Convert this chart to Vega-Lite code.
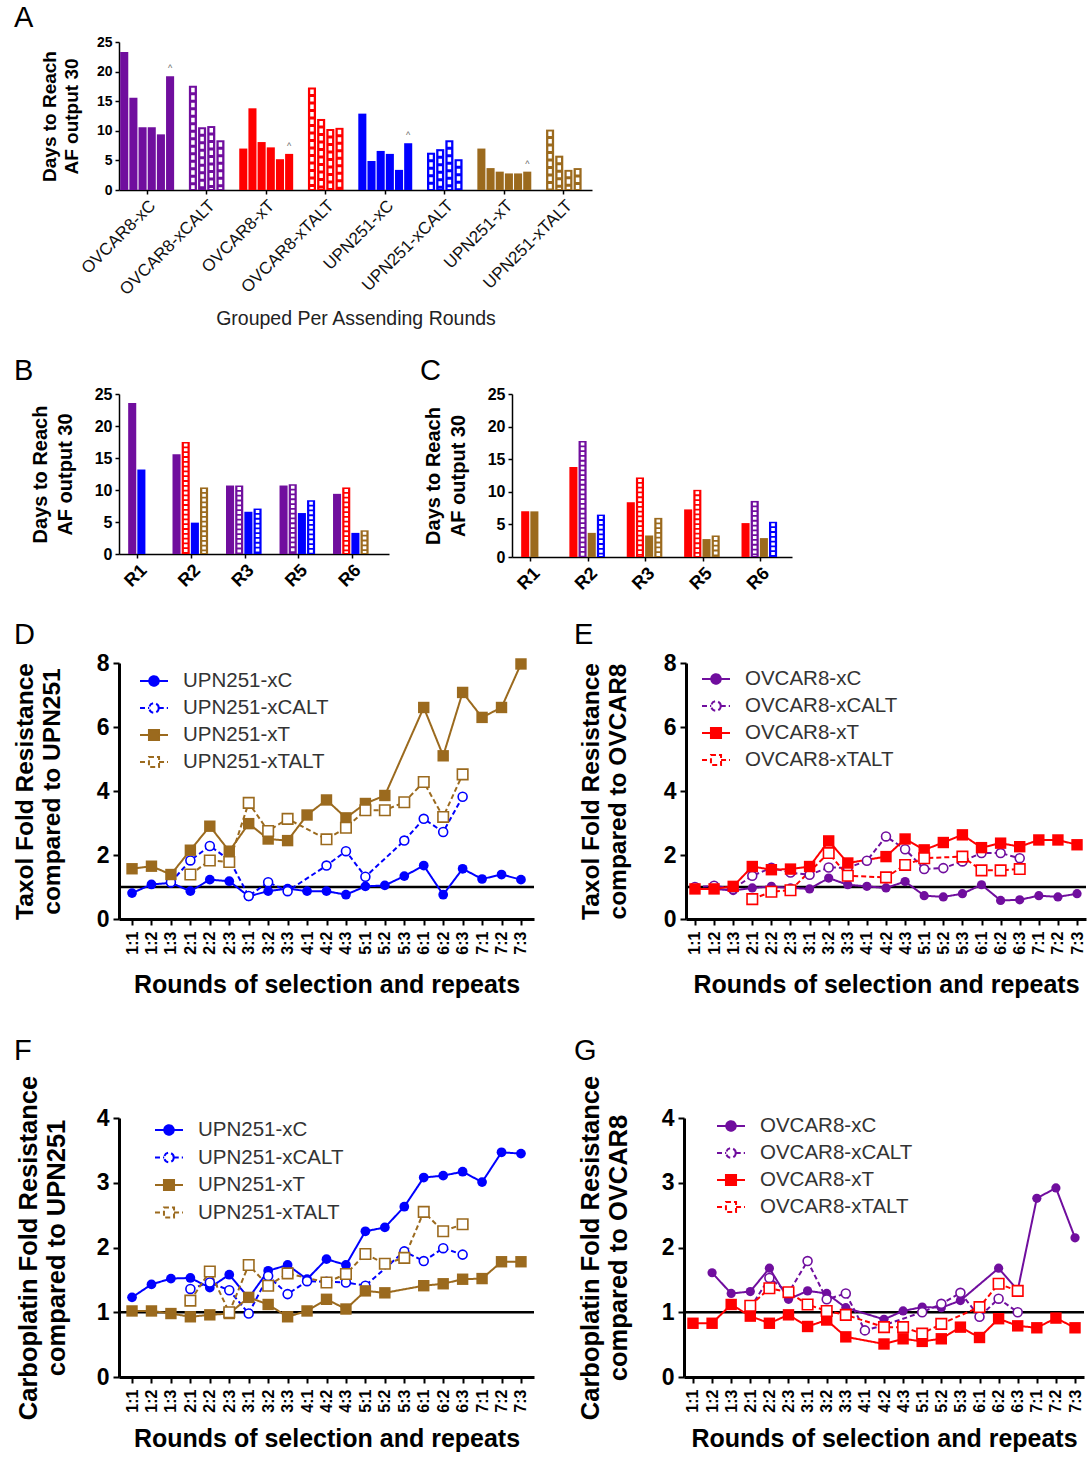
{
"$schema":"https://vega.github.io/schema/vega-lite/v6.json",
"padding":{"left":12,"top":4,"right":0,"bottom":0},
"config":{"font":"Liberation Sans","view":{"stroke":null},"axis":{"grid":false,"domainColor":"black","tickColor":"black","labelColor":"black","titleColor":"black","labelFont":"Liberation Sans","titleFont":"Liberation Sans"},"title":{"font":"Liberation Sans","fontWeight":"normal","color":"black","fontSize":29,"anchor":"start","frame":"group"},"legend":{"labelFont":"Liberation Sans"}},
"resolve":{"scale":{"color":"independent","stroke":"independent","strokeDash":"independent","x":"independent","y":"independent"}},
"datasets":{
"A":[
{"g":"OVCAR8-xC","k":1,"v":23.3},{"g":"OVCAR8-xC","k":2,"v":15.6},{"g":"OVCAR8-xC","k":3,"v":10.6},{"g":"OVCAR8-xC","k":4,"v":10.6},{"g":"OVCAR8-xC","k":5,"v":9.4},{"g":"OVCAR8-xC","k":6,"v":19.2,"n":"^"},
{"g":"OVCAR8-xCALT","k":2,"v":17.6},{"g":"OVCAR8-xCALT","k":3,"v":10.6},{"g":"OVCAR8-xCALT","k":4,"v":10.8},{"g":"OVCAR8-xCALT","k":5,"v":8.4},
{"g":"OVCAR8-xT","k":1,"v":7.0},{"g":"OVCAR8-xT","k":2,"v":13.8},{"g":"OVCAR8-xT","k":3,"v":8.1},{"g":"OVCAR8-xT","k":4,"v":7.2},{"g":"OVCAR8-xT","k":5,"v":5.2},{"g":"OVCAR8-xT","k":6,"v":6.1,"n":"^"},
{"g":"OVCAR8-xTALT","k":2,"v":17.3},{"g":"OVCAR8-xTALT","k":3,"v":12.0},{"g":"OVCAR8-xTALT","k":4,"v":10.3},{"g":"OVCAR8-xTALT","k":5,"v":10.5},
{"g":"UPN251-xC","k":1,"v":12.9},{"g":"UPN251-xC","k":2,"v":4.9},{"g":"UPN251-xC","k":3,"v":6.6},{"g":"UPN251-xC","k":4,"v":6.1},{"g":"UPN251-xC","k":5,"v":3.4},{"g":"UPN251-xC","k":6,"v":7.9,"n":"^"},
{"g":"UPN251-xCALT","k":2,"v":6.3},{"g":"UPN251-xCALT","k":3,"v":6.9},{"g":"UPN251-xCALT","k":4,"v":8.4},{"g":"UPN251-xCALT","k":5,"v":5.2},
{"g":"UPN251-xT","k":1,"v":7.0},{"g":"UPN251-xT","k":2,"v":3.7},{"g":"UPN251-xT","k":3,"v":3.1},{"g":"UPN251-xT","k":4,"v":2.8},{"g":"UPN251-xT","k":5,"v":2.8},{"g":"UPN251-xT","k":6,"v":3.1,"n":"^"},
{"g":"UPN251-xTALT","k":2,"v":10.2},{"g":"UPN251-xTALT","k":3,"v":5.8},{"g":"UPN251-xTALT","k":4,"v":3.4},{"g":"UPN251-xTALT","k":5,"v":3.7}
],
"B":[
{"r":"R1","k":2,"s":"OVCAR8-xC","v":23.6},{"r":"R1","k":3,"s":"UPN251-xC","v":13.2},
{"r":"R2","k":1,"s":"OVCAR8-xC","v":15.6},{"r":"R2","k":2,"s":"OVCAR8-xTALT","v":17.5},{"r":"R2","k":3,"s":"UPN251-xC","v":4.9},{"r":"R2","k":4,"s":"UPN251-xTALT","v":10.4},
{"r":"R3","k":1,"s":"OVCAR8-xC","v":10.7},{"r":"R3","k":2,"s":"OVCAR8-xCALT","v":10.7},{"r":"R3","k":3,"s":"UPN251-xC","v":6.6},{"r":"R3","k":4,"s":"UPN251-xCALT","v":7.1},
{"r":"R5","k":1,"s":"OVCAR8-xC","v":10.7},{"r":"R5","k":2,"s":"OVCAR8-xCALT","v":10.9},{"r":"R5","k":3,"s":"UPN251-xC","v":6.4},{"r":"R5","k":4,"s":"UPN251-xCALT","v":8.4},
{"r":"R6","k":1,"s":"OVCAR8-xC","v":9.4},{"r":"R6","k":2,"s":"OVCAR8-xTALT","v":10.4},{"r":"R6","k":3,"s":"UPN251-xC","v":3.3},{"r":"R6","k":4,"s":"UPN251-xTALT","v":3.7}
],
"C":[
{"r":"R1","k":2,"s":"OVCAR8-xT","v":7.0},{"r":"R1","k":3,"s":"UPN251-xT","v":7.0},
{"r":"R2","k":1,"s":"OVCAR8-xT","v":13.8},{"r":"R2","k":2,"s":"OVCAR8-xCALT","v":17.8},{"r":"R2","k":3,"s":"UPN251-xT","v":3.7},{"r":"R2","k":4,"s":"UPN251-xCALT","v":6.5},
{"r":"R3","k":1,"s":"OVCAR8-xT","v":8.4},{"r":"R3","k":2,"s":"OVCAR8-xTALT","v":12.2},{"r":"R3","k":3,"s":"UPN251-xT","v":3.3},{"r":"R3","k":4,"s":"UPN251-xTALT","v":6.0},
{"r":"R5","k":1,"s":"OVCAR8-xT","v":7.3},{"r":"R5","k":2,"s":"OVCAR8-xTALT","v":10.3},{"r":"R5","k":3,"s":"UPN251-xT","v":2.75},{"r":"R5","k":4,"s":"UPN251-xTALT","v":3.3},
{"r":"R6","k":1,"s":"OVCAR8-xT","v":5.2},{"r":"R6","k":2,"s":"OVCAR8-xCALT","v":8.6},{"r":"R6","k":3,"s":"UPN251-xT","v":2.9},{"r":"R6","k":4,"s":"UPN251-xCALT","v":5.4}
],
"D":[
{"s":"UPN251-xC","x":"1:1","v":0.81},{"s":"UPN251-xC","x":"1:2","v":1.08},{"s":"UPN251-xC","x":"1:3","v":1.13},{"s":"UPN251-xC","x":"2:1","v":0.87},{"s":"UPN251-xC","x":"2:2","v":1.23},{"s":"UPN251-xC","x":"2:3","v":1.18},{"s":"UPN251-xC","x":"3:1","v":0.71},{"s":"UPN251-xC","x":"3:2","v":0.87},{"s":"UPN251-xC","x":"3:3","v":0.95},{"s":"UPN251-xC","x":"4:1","v":0.87},{"s":"UPN251-xC","x":"4:2","v":0.87},{"s":"UPN251-xC","x":"4:3","v":0.76},{"s":"UPN251-xC","x":"5:1","v":1.02},{"s":"UPN251-xC","x":"5:2","v":1.05},{"s":"UPN251-xC","x":"5:3","v":1.34},{"s":"UPN251-xC","x":"6:1","v":1.67},{"s":"UPN251-xC","x":"6:2","v":0.76},{"s":"UPN251-xC","x":"6:3","v":1.57},{"s":"UPN251-xC","x":"7:1","v":1.25},{"s":"UPN251-xC","x":"7:2","v":1.39},{"s":"UPN251-xC","x":"7:3","v":1.23},
{"s":"UPN251-xCALT","x":"1:3","v":1.15},{"s":"UPN251-xCALT","x":"2:1","v":1.83},{"s":"UPN251-xCALT","x":"2:2","v":2.28},{"s":"UPN251-xCALT","x":"2:3","v":1.85},{"s":"UPN251-xCALT","x":"3:1","v":0.72},{"s":"UPN251-xCALT","x":"3:2","v":1.15},{"s":"UPN251-xCALT","x":"3:3","v":0.87},{"s":"UPN251-xCALT","x":"4:2","v":1.67},{"s":"UPN251-xCALT","x":"4:3","v":2.12},{"s":"UPN251-xCALT","x":"5:1","v":1.32},{"s":"UPN251-xCALT","x":"5:3","v":2.45},{"s":"UPN251-xCALT","x":"6:1","v":3.13},{"s":"UPN251-xCALT","x":"6:2","v":2.72},{"s":"UPN251-xCALT","x":"6:3","v":3.82},
{"s":"UPN251-xT","x":"1:1","v":1.57},{"s":"UPN251-xT","x":"1:2","v":1.65},{"s":"UPN251-xT","x":"1:3","v":1.39},{"s":"UPN251-xT","x":"2:1","v":2.15},{"s":"UPN251-xT","x":"2:2","v":2.9},{"s":"UPN251-xT","x":"2:3","v":2.12},{"s":"UPN251-xT","x":"3:1","v":2.98},{"s":"UPN251-xT","x":"3:2","v":2.5},{"s":"UPN251-xT","x":"3:3","v":2.45},{"s":"UPN251-xT","x":"4:1","v":3.25},{"s":"UPN251-xT","x":"4:2","v":3.72},{"s":"UPN251-xT","x":"4:3","v":3.16},{"s":"UPN251-xT","x":"5:1","v":3.61},{"s":"UPN251-xT","x":"5:2","v":3.86},{"s":"UPN251-xT","x":"6:1","v":6.61},{"s":"UPN251-xT","x":"6:2","v":5.1},{"s":"UPN251-xT","x":"6:3","v":7.08},{"s":"UPN251-xT","x":"7:1","v":6.3},{"s":"UPN251-xT","x":"7:2","v":6.61},{"s":"UPN251-xT","x":"7:3","v":7.97},
{"s":"UPN251-xTALT","x":"2:1","v":1.39},{"s":"UPN251-xTALT","x":"2:2","v":1.83},{"s":"UPN251-xTALT","x":"2:3","v":1.78},{"s":"UPN251-xTALT","x":"3:1","v":3.63},{"s":"UPN251-xTALT","x":"3:2","v":2.75},{"s":"UPN251-xTALT","x":"3:3","v":3.13},{"s":"UPN251-xTALT","x":"4:2","v":2.49},{"s":"UPN251-xTALT","x":"4:3","v":2.85},{"s":"UPN251-xTALT","x":"5:1","v":3.4},{"s":"UPN251-xTALT","x":"5:2","v":3.4},{"s":"UPN251-xTALT","x":"5:3","v":3.65},{"s":"UPN251-xTALT","x":"6:1","v":4.28},{"s":"UPN251-xTALT","x":"6:2","v":3.19},{"s":"UPN251-xTALT","x":"6:3","v":4.52}
],
"E":[
{"s":"OVCAR8-xC","x":"1:1","v":0.94},{"s":"OVCAR8-xC","x":"1:2","v":0.94},{"s":"OVCAR8-xC","x":"1:3","v":0.89},{"s":"OVCAR8-xC","x":"2:1","v":0.97},{"s":"OVCAR8-xC","x":"2:2","v":1.02},{"s":"OVCAR8-xC","x":"2:3","v":0.97},{"s":"OVCAR8-xC","x":"3:1","v":0.94},{"s":"OVCAR8-xC","x":"3:2","v":1.28},{"s":"OVCAR8-xC","x":"3:3","v":1.07},{"s":"OVCAR8-xC","x":"4:1","v":1.02},{"s":"OVCAR8-xC","x":"4:2","v":0.97},{"s":"OVCAR8-xC","x":"4:3","v":1.17},{"s":"OVCAR8-xC","x":"5:1","v":0.73},{"s":"OVCAR8-xC","x":"5:2","v":0.69},{"s":"OVCAR8-xC","x":"5:3","v":0.79},{"s":"OVCAR8-xC","x":"6:1","v":1.07},{"s":"OVCAR8-xC","x":"6:2","v":0.58},{"s":"OVCAR8-xC","x":"6:3","v":0.6},{"s":"OVCAR8-xC","x":"7:1","v":0.73},{"s":"OVCAR8-xC","x":"7:2","v":0.69},{"s":"OVCAR8-xC","x":"7:3","v":0.79},
{"s":"OVCAR8-xCALT","x":"1:1","v":1.0},{"s":"OVCAR8-xCALT","x":"1:2","v":1.04},{"s":"OVCAR8-xCALT","x":"1:3","v":0.94},{"s":"OVCAR8-xCALT","x":"2:1","v":1.35},{"s":"OVCAR8-xCALT","x":"2:2","v":1.6},{"s":"OVCAR8-xCALT","x":"2:3","v":1.45},{"s":"OVCAR8-xCALT","x":"3:1","v":1.38},{"s":"OVCAR8-xCALT","x":"3:2","v":1.61},{"s":"OVCAR8-xCALT","x":"3:3","v":1.6},{"s":"OVCAR8-xCALT","x":"4:1","v":1.82},{"s":"OVCAR8-xCALT","x":"4:2","v":2.58},{"s":"OVCAR8-xCALT","x":"4:3","v":2.18},{"s":"OVCAR8-xCALT","x":"5:1","v":1.56},{"s":"OVCAR8-xCALT","x":"5:2","v":1.59},{"s":"OVCAR8-xCALT","x":"5:3","v":1.8},{"s":"OVCAR8-xCALT","x":"6:1","v":2.06},{"s":"OVCAR8-xCALT","x":"6:2","v":2.06},{"s":"OVCAR8-xCALT","x":"6:3","v":1.9},
{"s":"OVCAR8-xT","x":"1:1","v":0.94},{"s":"OVCAR8-xT","x":"1:2","v":0.94},{"s":"OVCAR8-xT","x":"1:3","v":1.02},{"s":"OVCAR8-xT","x":"2:1","v":1.64},{"s":"OVCAR8-xT","x":"2:2","v":1.54},{"s":"OVCAR8-xT","x":"2:3","v":1.56},{"s":"OVCAR8-xT","x":"3:1","v":1.64},{"s":"OVCAR8-xT","x":"3:2","v":2.44},{"s":"OVCAR8-xT","x":"3:3","v":1.75},{"s":"OVCAR8-xT","x":"4:2","v":1.95},{"s":"OVCAR8-xT","x":"4:3","v":2.5},{"s":"OVCAR8-xT","x":"5:1","v":2.16},{"s":"OVCAR8-xT","x":"5:2","v":2.39},{"s":"OVCAR8-xT","x":"5:3","v":2.63},{"s":"OVCAR8-xT","x":"6:1","v":2.23},{"s":"OVCAR8-xT","x":"6:2","v":2.37},{"s":"OVCAR8-xT","x":"6:3","v":2.26},{"s":"OVCAR8-xT","x":"7:1","v":2.47},{"s":"OVCAR8-xT","x":"7:2","v":2.47},{"s":"OVCAR8-xT","x":"7:3","v":2.32},
{"s":"OVCAR8-xTALT","x":"2:1","v":0.62},{"s":"OVCAR8-xTALT","x":"2:2","v":0.85},{"s":"OVCAR8-xTALT","x":"2:3","v":0.9},{"s":"OVCAR8-xTALT","x":"3:2","v":2.06},{"s":"OVCAR8-xTALT","x":"3:3","v":1.35},{"s":"OVCAR8-xTALT","x":"4:2","v":1.3},{"s":"OVCAR8-xTALT","x":"4:3","v":1.69},{"s":"OVCAR8-xTALT","x":"5:1","v":1.9},{"s":"OVCAR8-xTALT","x":"5:3","v":1.95},{"s":"OVCAR8-xTALT","x":"6:1","v":1.52},{"s":"OVCAR8-xTALT","x":"6:2","v":1.52},{"s":"OVCAR8-xTALT","x":"6:3","v":1.56}
],
"F":[
{"s":"UPN251-xC","x":"1:1","v":1.23},{"s":"UPN251-xC","x":"1:2","v":1.43},{"s":"UPN251-xC","x":"1:3","v":1.52},{"s":"UPN251-xC","x":"2:1","v":1.53},{"s":"UPN251-xC","x":"2:2","v":1.38},{"s":"UPN251-xC","x":"2:3","v":1.58},{"s":"UPN251-xC","x":"3:1","v":1.22},{"s":"UPN251-xC","x":"3:2","v":1.64},{"s":"UPN251-xC","x":"3:3","v":1.73},{"s":"UPN251-xC","x":"4:1","v":1.51},{"s":"UPN251-xC","x":"4:2","v":1.82},{"s":"UPN251-xC","x":"4:3","v":1.73},{"s":"UPN251-xC","x":"5:1","v":2.25},{"s":"UPN251-xC","x":"5:2","v":2.31},{"s":"UPN251-xC","x":"5:3","v":2.63},{"s":"UPN251-xC","x":"6:1","v":3.08},{"s":"UPN251-xC","x":"6:2","v":3.11},{"s":"UPN251-xC","x":"6:3","v":3.17},{"s":"UPN251-xC","x":"7:1","v":3.01},{"s":"UPN251-xC","x":"7:2","v":3.47},{"s":"UPN251-xC","x":"7:3","v":3.45},
{"s":"UPN251-xCALT","x":"2:1","v":1.36},{"s":"UPN251-xCALT","x":"2:2","v":1.46},{"s":"UPN251-xCALT","x":"2:3","v":1.34},{"s":"UPN251-xCALT","x":"3:1","v":0.98},{"s":"UPN251-xCALT","x":"3:2","v":1.56},{"s":"UPN251-xCALT","x":"3:3","v":1.28},{"s":"UPN251-xCALT","x":"4:1","v":1.48},{"s":"UPN251-xCALT","x":"4:2","v":1.47},{"s":"UPN251-xCALT","x":"4:3","v":1.46},{"s":"UPN251-xCALT","x":"5:1","v":1.41},{"s":"UPN251-xCALT","x":"5:3","v":1.94},{"s":"UPN251-xCALT","x":"6:1","v":1.79},{"s":"UPN251-xCALT","x":"6:2","v":1.99},{"s":"UPN251-xCALT","x":"6:3","v":1.89},
{"s":"UPN251-xT","x":"1:1","v":1.02},{"s":"UPN251-xT","x":"1:2","v":1.02},{"s":"UPN251-xT","x":"1:3","v":0.98},{"s":"UPN251-xT","x":"2:1","v":0.93},{"s":"UPN251-xT","x":"2:2","v":0.96},{"s":"UPN251-xT","x":"2:3","v":0.98},{"s":"UPN251-xT","x":"3:1","v":1.23},{"s":"UPN251-xT","x":"3:2","v":1.12},{"s":"UPN251-xT","x":"3:3","v":0.93},{"s":"UPN251-xT","x":"4:1","v":1.02},{"s":"UPN251-xT","x":"4:2","v":1.2},{"s":"UPN251-xT","x":"4:3","v":1.05},{"s":"UPN251-xT","x":"5:1","v":1.33},{"s":"UPN251-xT","x":"5:2","v":1.3},{"s":"UPN251-xT","x":"6:1","v":1.41},{"s":"UPN251-xT","x":"6:2","v":1.44},{"s":"UPN251-xT","x":"6:3","v":1.51},{"s":"UPN251-xT","x":"7:1","v":1.52},{"s":"UPN251-xT","x":"7:2","v":1.78},{"s":"UPN251-xT","x":"7:3","v":1.78},
{"s":"UPN251-xTALT","x":"2:1","v":1.18},{"s":"UPN251-xTALT","x":"2:2","v":1.63},{"s":"UPN251-xTALT","x":"2:3","v":1.0},{"s":"UPN251-xTALT","x":"3:1","v":1.73},{"s":"UPN251-xTALT","x":"3:2","v":1.41},{"s":"UPN251-xTALT","x":"3:3","v":1.6},{"s":"UPN251-xTALT","x":"4:2","v":1.46},{"s":"UPN251-xTALT","x":"4:3","v":1.59},{"s":"UPN251-xTALT","x":"5:1","v":1.9},{"s":"UPN251-xTALT","x":"5:2","v":1.75},{"s":"UPN251-xTALT","x":"5:3","v":1.84},{"s":"UPN251-xTALT","x":"6:1","v":2.55},{"s":"UPN251-xTALT","x":"6:2","v":2.25},{"s":"UPN251-xTALT","x":"6:3","v":2.36}
],
"G":[
{"s":"OVCAR8-xC","x":"1:2","v":1.61},{"s":"OVCAR8-xC","x":"1:3","v":1.29},{"s":"OVCAR8-xC","x":"2:1","v":1.32},{"s":"OVCAR8-xC","x":"2:2","v":1.68},{"s":"OVCAR8-xC","x":"2:3","v":1.2},{"s":"OVCAR8-xC","x":"3:1","v":1.33},{"s":"OVCAR8-xC","x":"3:2","v":1.29},{"s":"OVCAR8-xC","x":"3:3","v":1.07},{"s":"OVCAR8-xC","x":"4:2","v":0.89},{"s":"OVCAR8-xC","x":"4:3","v":1.02},{"s":"OVCAR8-xC","x":"5:1","v":1.08},{"s":"OVCAR8-xC","x":"5:2","v":1.07},{"s":"OVCAR8-xC","x":"5:3","v":1.18},{"s":"OVCAR8-xC","x":"6:2","v":1.68},{"s":"OVCAR8-xC","x":"6:3","v":1.34},{"s":"OVCAR8-xC","x":"7:1","v":2.76},{"s":"OVCAR8-xC","x":"7:2","v":2.92},{"s":"OVCAR8-xC","x":"7:3","v":2.15},
{"s":"OVCAR8-xCALT","x":"2:1","v":1.07},{"s":"OVCAR8-xCALT","x":"2:2","v":1.53},{"s":"OVCAR8-xCALT","x":"2:3","v":1.3},{"s":"OVCAR8-xCALT","x":"3:1","v":1.79},{"s":"OVCAR8-xCALT","x":"3:2","v":1.2},{"s":"OVCAR8-xCALT","x":"3:3","v":1.29},{"s":"OVCAR8-xCALT","x":"4:1","v":0.72},{"s":"OVCAR8-xCALT","x":"4:2","v":0.8},{"s":"OVCAR8-xCALT","x":"5:1","v":1.0},{"s":"OVCAR8-xCALT","x":"5:2","v":1.13},{"s":"OVCAR8-xCALT","x":"5:3","v":1.3},{"s":"OVCAR8-xCALT","x":"6:1","v":0.93},{"s":"OVCAR8-xCALT","x":"6:2","v":1.21},{"s":"OVCAR8-xCALT","x":"6:3","v":1.0},
{"s":"OVCAR8-xT","x":"1:1","v":0.83},{"s":"OVCAR8-xT","x":"1:2","v":0.83},{"s":"OVCAR8-xT","x":"1:3","v":1.12},{"s":"OVCAR8-xT","x":"2:1","v":0.94},{"s":"OVCAR8-xT","x":"2:2","v":0.83},{"s":"OVCAR8-xT","x":"2:3","v":0.96},{"s":"OVCAR8-xT","x":"3:1","v":0.78},{"s":"OVCAR8-xT","x":"3:2","v":0.88},{"s":"OVCAR8-xT","x":"3:3","v":0.62},{"s":"OVCAR8-xT","x":"4:2","v":0.51},{"s":"OVCAR8-xT","x":"4:3","v":0.59},{"s":"OVCAR8-xT","x":"5:1","v":0.55},{"s":"OVCAR8-xT","x":"5:2","v":0.59},{"s":"OVCAR8-xT","x":"5:3","v":0.77},{"s":"OVCAR8-xT","x":"6:1","v":0.61},{"s":"OVCAR8-xT","x":"6:2","v":0.9},{"s":"OVCAR8-xT","x":"6:3","v":0.79},{"s":"OVCAR8-xT","x":"7:1","v":0.76},{"s":"OVCAR8-xT","x":"7:2","v":0.91},{"s":"OVCAR8-xT","x":"7:3","v":0.76},
{"s":"OVCAR8-xTALT","x":"2:1","v":1.1},{"s":"OVCAR8-xTALT","x":"2:2","v":1.37},{"s":"OVCAR8-xTALT","x":"2:3","v":1.31},{"s":"OVCAR8-xTALT","x":"3:1","v":1.12},{"s":"OVCAR8-xTALT","x":"3:2","v":1.02},{"s":"OVCAR8-xTALT","x":"3:3","v":0.96},{"s":"OVCAR8-xTALT","x":"4:2","v":0.77},{"s":"OVCAR8-xTALT","x":"4:3","v":0.77},{"s":"OVCAR8-xTALT","x":"5:1","v":0.67},{"s":"OVCAR8-xTALT","x":"5:2","v":0.82},{"s":"OVCAR8-xTALT","x":"6:1","v":1.08},{"s":"OVCAR8-xTALT","x":"6:2","v":1.44},{"s":"OVCAR8-xTALT","x":"6:3","v":1.33}
]
},
"spacing":39,
"vconcat":[
{"vconcat":[
{"hconcat":[
{"width":473,"height":148,
"title":{"text":"A","dx":-105,"offset":2},
"data":{"name":"A"},
"encoding":{
"x":{"field":"g","type":"nominal","sort":null,"scale":{"paddingInner":0.094,"paddingOuter":0.02},"title":"Grouped Per Assending Rounds","axis":{"labelAngle":-45,"labelFontSize":17,"labelPadding":3,"labelColor":"#111","tickSize":4,"tickWidth":1.5,"domainWidth":1.5,"titleFontSize":19.5,"titleFontWeight":"normal","titlePadding":12,"titleColor":"#222"}},
"xOffset":{"field":"k","type":"ordinal","scale":{"domain":[1,2,3,4,5,6],"paddingInner":0.12}},
"y":{"field":"v","type":"quantitative","scale":{"domain":[0,25]},"title":["Days to Reach","AF output 30"],"axis":{"values":[0,5,10,15,20,25],"labelFontSize":14,"labelFontWeight":"bold","tickSize":4,"tickWidth":1.5,"domainWidth":1.5,"labelPadding":3,"titleFontSize":19,"titleFontWeight":"bold","titleLineHeight":22,"titlePadding":15}}
},
"layer":[
{"mark":{"type":"bar"},"encoding":{"color":{"field":"g","type":"nominal","scale":{"domain":["OVCAR8-xC","OVCAR8-xCALT","OVCAR8-xT","OVCAR8-xTALT","UPN251-xC","UPN251-xCALT","UPN251-xT","UPN251-xTALT"],"range":["#700e9e","#700e9e","#ff0000","#ff0000","#0000ff","#0000ff","#9b6a1e","#9b6a1e"]},"legend":null}}},
{"transform":[{"filter":"test(/ALT/, datum.g)"}],"mark":{"type":"rule","color":"white","strokeWidth":3.5,"strokeDash":[4.5,3],"yOffset":2,"y2Offset":-1},"encoding":{"y2":{"datum":0}}},
{"transform":[{"filter":"isValid(datum.n)"}],"mark":{"type":"text","dy":-8,"fontSize":9,"color":"#666"},"encoding":{"text":{"field":"n"}}}
]}
]},
{"hconcat":[
{"width":270,"height":160,
"title":{"text":"B","dx":-105,"offset":0},
"data":{"name":"B"},
"encoding":{
"x":{"field":"r","type":"nominal","sort":null,"scale":{"paddingInner":0.29,"paddingOuter":0.168,"align":0},"title":null,"axis":{"labelAngle":-45,"labelFontSize":18,"labelFontWeight":"bold","labelPadding":3,"tickSize":4,"tickWidth":1.5,"domainWidth":1.5}},
"xOffset":{"field":"k","type":"ordinal","scale":{"domain":[1,2,3,4],"paddingInner":0.12}},
"y":{"field":"v","type":"quantitative","scale":{"domain":[0,25]},"title":["Days to Reach","AF output 30"],"axis":{"values":[0,5,10,15,20,25],"labelFontSize":16,"labelFontWeight":"bold","tickSize":4,"tickWidth":1.5,"domainWidth":1.5,"labelPadding":3,"titleFontSize":20,"titleFontWeight":"bold","titleLineHeight":25,"titlePadding":19}}
},
"layer":[
{"mark":{"type":"bar"},"encoding":{"color":{"field":"s","type":"nominal","scale":{"domain":["OVCAR8-xC","OVCAR8-xCALT","OVCAR8-xT","OVCAR8-xTALT","UPN251-xC","UPN251-xCALT","UPN251-xT","UPN251-xTALT"],"range":["#700e9e","#700e9e","#ff0000","#ff0000","#0000ff","#0000ff","#9b6a1e","#9b6a1e"]},"legend":null}}},
{"transform":[{"filter":"test(/ALT/, datum.s)"}],"mark":{"type":"rule","color":"white","strokeWidth":3.6,"strokeDash":[3,1.8],"yOffset":1.5,"y2Offset":-1},"encoding":{"y2":{"datum":0}}}
]},
{"width":280,"height":163,
"title":{"text":"C","dx":-92,"offset":0},
"data":{"name":"C"},
"encoding":{
"x":{"field":"r","type":"nominal","sort":null,"scale":{"paddingInner":0.34,"paddingOuter":0.11,"align":0},"title":null,"axis":{"labelAngle":-45,"labelFontSize":18,"labelFontWeight":"bold","labelPadding":3,"tickSize":4,"tickWidth":1.5,"domainWidth":1.5}},
"xOffset":{"field":"k","type":"ordinal","scale":{"domain":[1,2,3,4],"paddingInner":0.12}},
"y":{"field":"v","type":"quantitative","scale":{"domain":[0,25]},"title":["Days to Reach","AF output 30"],"axis":{"values":[0,5,10,15,20,25],"labelFontSize":16,"labelFontWeight":"bold","tickSize":4,"tickWidth":1.5,"domainWidth":1.5,"labelPadding":3,"titleFontSize":20,"titleFontWeight":"bold","titleLineHeight":25,"titlePadding":19}}
},
"layer":[
{"mark":{"type":"bar"},"encoding":{"color":{"field":"s","type":"nominal","scale":{"domain":["OVCAR8-xC","OVCAR8-xCALT","OVCAR8-xT","OVCAR8-xTALT","UPN251-xC","UPN251-xCALT","UPN251-xT","UPN251-xTALT"],"range":["#700e9e","#700e9e","#ff0000","#ff0000","#0000ff","#0000ff","#9b6a1e","#9b6a1e"]},"legend":null}}},
{"transform":[{"filter":"test(/ALT/, datum.s)"}],"mark":{"type":"rule","color":"white","strokeWidth":3.6,"strokeDash":[3,1.8],"yOffset":1.5,"y2Offset":-1},"encoding":{"y2":{"datum":0}}}
]}
],"spacing":31,"resolve":{"scale":{"color":"independent","x":"independent","y":"independent"}}},
{"hconcat":[
{"width":415,"height":256,
"title":{"text":"D","dx":-105,"offset":2},
"layer":[
{"data":{"values":[{}]},"mark":{"type":"rule","color":"black","strokeWidth":2.5},"encoding":{"y":{"datum":1,"type":"quantitative"}}},
{"data":{"name":"D"},"mark":{"type":"line","strokeWidth":2},"encoding":{
"x":{"field":"x","type":"ordinal","scale":{"domain":["1:1","1:2","1:3","2:1","2:2","2:3","3:1","3:2","3:3","4:1","4:2","4:3","5:1","5:2","5:3","6:1","6:2","6:3","7:1","7:2","7:3"],"padding":0.67},"title":"Rounds of selection and repeats","axis":{"labelAngle":-90,"labelFontSize":16,"labelFontWeight":"bold","labelPadding":6,"tickSize":6,"tickWidth":2,"domainWidth":3,"titleFontSize":25,"titleFontWeight":"bold","titlePadding":18}},
"y":{"field":"v","type":"quantitative","scale":{"domain":[0,8]},"title":["Taxol Fold Resistance","compared to UPN251"],"axis":{"values":[0,2,4,6,8],"format":"d","labelFontSize":23,"labelFontWeight":"bold","tickSize":6,"tickWidth":2,"domainWidth":3,"labelPadding":4,"titleFontSize":24.5,"titleFontWeight":"bold","titleLineHeight":27,"titlePadding":32}},
"stroke":{"field":"s","type":"nominal","scale":{"domain":["UPN251-xC","UPN251-xCALT","UPN251-xT","UPN251-xTALT"],"range":["#0000ff","#0000ff","#9b6a1e","#9b6a1e"]},"legend":{"orient":"none","legendX":20,"legendY":3,"title":null,"padding":0,"labelFontSize":20.5,"labelColor":"#333","symbolSize":784,"symbolStrokeWidth":2,"rowPadding":1,"labelOffset":14,"encode":{"symbols":{"update":{"shape":{"signal":"test(/-xT/, datum.value) ? 'M-1,0H-0.36M0.36,0H1M-0.36,-0.36H0.36V0.36H-0.36Z' : 'M-1,0H-0.34M0.34,0H1M0.34,0A0.34,0.34,0,1,1,-0.34,0A0.34,0.34,0,1,1,0.34,0Z'"},"fill":{"signal":"test(/ALT/, datum.value) ? '#ffffff' : (test(/-xT/, datum.value) ? '#9b6a1e' : '#0000ff')"},"fillOpacity":{"value":1}}}}}},
"strokeDash":{"field":"s","type":"nominal","scale":{"domain":["UPN251-xC","UPN251-xCALT","UPN251-xT","UPN251-xTALT"],"range":[[1,0],[5,3],[1,0],[5,3]]},"legend":null}
}},
{"data":{"name":"D"},"transform":[{"filter":"datum.s=='UPN251-xC'"}],"mark":{"type":"point","shape":"circle","filled":true,"color":"#0000ff","size":95,"opacity":1},"encoding":{"x":{"field":"x","type":"ordinal"},"y":{"field":"v","type":"quantitative"}}},
{"data":{"name":"D"},"transform":[{"filter":"datum.s=='UPN251-xCALT'"}],"mark":{"type":"point","shape":"circle","filled":false,"fill":"#ffffff","stroke":"#0000ff","strokeWidth":1.6,"size":80,"opacity":1,"fillOpacity":1},"encoding":{"x":{"field":"x","type":"ordinal"},"y":{"field":"v","type":"quantitative"}}},
{"data":{"name":"D"},"transform":[{"filter":"datum.s=='UPN251-xT'"}],"mark":{"type":"point","shape":"square","filled":true,"color":"#9b6a1e","size":130,"opacity":1},"encoding":{"x":{"field":"x","type":"ordinal"},"y":{"field":"v","type":"quantitative"}}},
{"data":{"name":"D"},"transform":[{"filter":"datum.s=='UPN251-xTALT'"}],"mark":{"type":"point","shape":"square","filled":false,"fill":"#ffffff","stroke":"#9b6a1e","strokeWidth":1.6,"size":110,"opacity":1,"fillOpacity":1},"encoding":{"x":{"field":"x","type":"ordinal"},"y":{"field":"v","type":"quantitative"}}}
]},
{"width":400,"height":256,
"title":{"text":"E","dx":-112,"offset":2},
"layer":[
{"data":{"values":[{}]},"mark":{"type":"rule","color":"black","strokeWidth":2.5},"encoding":{"y":{"datum":1,"type":"quantitative"}}},
{"data":{"name":"E"},"mark":{"type":"line","strokeWidth":2},"encoding":{
"x":{"field":"x","type":"ordinal","scale":{"domain":["1:1","1:2","1:3","2:1","2:2","2:3","3:1","3:2","3:3","4:1","4:2","4:3","5:1","5:2","5:3","6:1","6:2","6:3","7:1","7:2","7:3"],"padding":0.47},"title":"Rounds of selection and repeats","axis":{"labelAngle":-90,"labelFontSize":16,"labelFontWeight":"bold","labelPadding":6,"tickSize":6,"tickWidth":2,"domainWidth":3,"titleFontSize":25,"titleFontWeight":"bold","titlePadding":18}},
"y":{"field":"v","type":"quantitative","scale":{"domain":[0,8]},"title":["Taxol Fold Resistance","compared to OVCAR8"],"axis":{"values":[0,2,4,6,8],"format":"d","labelFontSize":23,"labelFontWeight":"bold","tickSize":6,"tickWidth":2,"domainWidth":3,"labelPadding":4,"titleFontSize":24.5,"titleFontWeight":"bold","titleLineHeight":27,"titlePadding":33}},
"stroke":{"field":"s","type":"nominal","scale":{"domain":["OVCAR8-xC","OVCAR8-xCALT","OVCAR8-xT","OVCAR8-xTALT"],"range":["#700e9e","#700e9e","#ff0000","#ff0000"]},"legend":{"orient":"none","legendX":15,"legendY":1,"title":null,"padding":0,"labelFontSize":20.5,"labelColor":"#333","symbolSize":784,"symbolStrokeWidth":2,"rowPadding":1,"labelOffset":14,"encode":{"symbols":{"update":{"shape":{"signal":"test(/-xT/, datum.value) ? 'M-1,0H-0.36M0.36,0H1M-0.36,-0.36H0.36V0.36H-0.36Z' : 'M-1,0H-0.34M0.34,0H1M0.34,0A0.34,0.34,0,1,1,-0.34,0A0.34,0.34,0,1,1,0.34,0Z'"},"fill":{"signal":"test(/ALT/, datum.value) ? '#ffffff' : (test(/-xT/, datum.value) ? '#ff0000' : '#700e9e')"},"fillOpacity":{"value":1}}}}}},
"strokeDash":{"field":"s","type":"nominal","scale":{"domain":["OVCAR8-xC","OVCAR8-xCALT","OVCAR8-xT","OVCAR8-xTALT"],"range":[[1,0],[5,3],[1,0],[5,3]]},"legend":null}
}},
{"data":{"name":"E"},"transform":[{"filter":"datum.s=='OVCAR8-xC'"}],"mark":{"type":"point","shape":"circle","filled":true,"color":"#700e9e","size":85,"opacity":1},"encoding":{"x":{"field":"x","type":"ordinal"},"y":{"field":"v","type":"quantitative"}}},
{"data":{"name":"E"},"transform":[{"filter":"datum.s=='OVCAR8-xCALT'"}],"mark":{"type":"point","shape":"circle","filled":false,"fill":"#ffffff","stroke":"#700e9e","strokeWidth":1.6,"size":80,"opacity":1,"fillOpacity":1},"encoding":{"x":{"field":"x","type":"ordinal"},"y":{"field":"v","type":"quantitative"}}},
{"data":{"name":"E"},"transform":[{"filter":"datum.s=='OVCAR8-xT'"}],"mark":{"type":"point","shape":"square","filled":true,"color":"#ff0000","size":130,"opacity":1},"encoding":{"x":{"field":"x","type":"ordinal"},"y":{"field":"v","type":"quantitative"}}},
{"data":{"name":"E"},"transform":[{"filter":"datum.s=='OVCAR8-xTALT'"}],"mark":{"type":"point","shape":"square","filled":false,"fill":"#ffffff","stroke":"#ff0000","strokeWidth":1.6,"size":110,"opacity":1,"fillOpacity":1},"encoding":{"x":{"field":"x","type":"ordinal"},"y":{"field":"v","type":"quantitative"}}}
]}
],"spacing":38,"resolve":{"scale":{"stroke":"independent","strokeDash":"independent","x":"independent","y":"independent"}}}
],"spacing":28},
{"hconcat":[
{"width":415,"height":259,
"title":{"text":"F","dx":-105,"offset":9},
"layer":[
{"data":{"values":[{}]},"mark":{"type":"rule","color":"black","strokeWidth":2.5},"encoding":{"y":{"datum":1,"type":"quantitative"}}},
{"data":{"name":"F"},"mark":{"type":"line","strokeWidth":2},"encoding":{
"x":{"field":"x","type":"ordinal","scale":{"domain":["1:1","1:2","1:3","2:1","2:2","2:3","3:1","3:2","3:3","4:1","4:2","4:3","5:1","5:2","5:3","6:1","6:2","6:3","7:1","7:2","7:3"],"padding":0.67},"title":"Rounds of selection and repeats","axis":{"labelAngle":-90,"labelFontSize":16,"labelFontWeight":"bold","labelPadding":6,"tickSize":6,"tickWidth":2,"domainWidth":3,"titleFontSize":25,"titleFontWeight":"bold","titlePadding":14}},
"y":{"field":"v","type":"quantitative","scale":{"domain":[0,4]},"title":["Carboplatin Fold Resistance","compared to UPN251"],"axis":{"values":[0,1,2,3,4],"format":"d","labelFontSize":23,"labelFontWeight":"bold","tickSize":6,"tickWidth":2,"domainWidth":3,"labelPadding":4,"titleFontSize":25.5,"titleFontWeight":"bold","titleLineHeight":28,"titlePadding":27}},
"stroke":{"field":"s","type":"nominal","scale":{"domain":["UPN251-xC","UPN251-xCALT","UPN251-xT","UPN251-xTALT"],"range":["#0000ff","#0000ff","#9b6a1e","#9b6a1e"]},"legend":{"orient":"none","legendX":35,"legendY":-3,"title":null,"padding":0,"labelFontSize":20.5,"labelColor":"#333","symbolSize":784,"symbolStrokeWidth":2,"rowPadding":1.5,"labelOffset":14,"encode":{"symbols":{"update":{"shape":{"signal":"test(/-xT/, datum.value) ? 'M-1,0H-0.36M0.36,0H1M-0.36,-0.36H0.36V0.36H-0.36Z' : 'M-1,0H-0.34M0.34,0H1M0.34,0A0.34,0.34,0,1,1,-0.34,0A0.34,0.34,0,1,1,0.34,0Z'"},"fill":{"signal":"test(/ALT/, datum.value) ? '#ffffff' : (test(/-xT/, datum.value) ? '#9b6a1e' : '#0000ff')"},"fillOpacity":{"value":1}}}}}},
"strokeDash":{"field":"s","type":"nominal","scale":{"domain":["UPN251-xC","UPN251-xCALT","UPN251-xT","UPN251-xTALT"],"range":[[1,0],[5,3],[1,0],[5,3]]},"legend":null}
}},
{"data":{"name":"F"},"transform":[{"filter":"datum.s=='UPN251-xC'"}],"mark":{"type":"point","shape":"circle","filled":true,"color":"#0000ff","size":95,"opacity":1},"encoding":{"x":{"field":"x","type":"ordinal"},"y":{"field":"v","type":"quantitative"}}},
{"data":{"name":"F"},"transform":[{"filter":"datum.s=='UPN251-xCALT'"}],"mark":{"type":"point","shape":"circle","filled":false,"fill":"#ffffff","stroke":"#0000ff","strokeWidth":1.6,"size":80,"opacity":1,"fillOpacity":1},"encoding":{"x":{"field":"x","type":"ordinal"},"y":{"field":"v","type":"quantitative"}}},
{"data":{"name":"F"},"transform":[{"filter":"datum.s=='UPN251-xT'"}],"mark":{"type":"point","shape":"square","filled":true,"color":"#9b6a1e","size":130,"opacity":1},"encoding":{"x":{"field":"x","type":"ordinal"},"y":{"field":"v","type":"quantitative"}}},
{"data":{"name":"F"},"transform":[{"filter":"datum.s=='UPN251-xTALT'"}],"mark":{"type":"point","shape":"square","filled":false,"fill":"#ffffff","stroke":"#9b6a1e","strokeWidth":1.6,"size":110,"opacity":1,"fillOpacity":1},"encoding":{"x":{"field":"x","type":"ordinal"},"y":{"field":"v","type":"quantitative"}}}
]},
{"width":400,"height":259,
"title":{"text":"G","dx":-110,"offset":9},
"layer":[
{"data":{"values":[{}]},"mark":{"type":"rule","color":"black","strokeWidth":2.5},"encoding":{"y":{"datum":1,"type":"quantitative"}}},
{"data":{"name":"G"},"mark":{"type":"line","strokeWidth":2},"encoding":{
"x":{"field":"x","type":"ordinal","scale":{"domain":["1:1","1:2","1:3","2:1","2:2","2:3","3:1","3:2","3:3","4:1","4:2","4:3","5:1","5:2","5:3","6:1","6:2","6:3","7:1","7:2","7:3"],"padding":0.47},"title":"Rounds of selection and repeats","axis":{"labelAngle":-90,"labelFontSize":16,"labelFontWeight":"bold","labelPadding":6,"tickSize":6,"tickWidth":2,"domainWidth":3,"titleFontSize":25,"titleFontWeight":"bold","titlePadding":14}},
"y":{"field":"v","type":"quantitative","scale":{"domain":[0,4]},"title":["Carboplatin Fold Resistance","compared to OVCAR8"],"axis":{"values":[0,1,2,3,4],"format":"d","labelFontSize":23,"labelFontWeight":"bold","tickSize":6,"tickWidth":2,"domainWidth":3,"labelPadding":4,"titleFontSize":25.5,"titleFontWeight":"bold","titleLineHeight":28,"titlePadding":30}},
"stroke":{"field":"s","type":"nominal","scale":{"domain":["OVCAR8-xC","OVCAR8-xCALT","OVCAR8-xT","OVCAR8-xTALT"],"range":["#700e9e","#700e9e","#ff0000","#ff0000"]},"legend":{"orient":"none","legendX":32,"legendY":-7,"title":null,"padding":0,"labelFontSize":20.5,"labelColor":"#333","symbolSize":784,"symbolStrokeWidth":2,"rowPadding":1,"labelOffset":14,"encode":{"symbols":{"update":{"shape":{"signal":"test(/-xT/, datum.value) ? 'M-1,0H-0.36M0.36,0H1M-0.36,-0.36H0.36V0.36H-0.36Z' : 'M-1,0H-0.34M0.34,0H1M0.34,0A0.34,0.34,0,1,1,-0.34,0A0.34,0.34,0,1,1,0.34,0Z'"},"fill":{"signal":"test(/ALT/, datum.value) ? '#ffffff' : (test(/-xT/, datum.value) ? '#ff0000' : '#700e9e')"},"fillOpacity":{"value":1}}}}}},
"strokeDash":{"field":"s","type":"nominal","scale":{"domain":["OVCAR8-xC","OVCAR8-xCALT","OVCAR8-xT","OVCAR8-xTALT"],"range":[[1,0],[5,3],[1,0],[5,3]]},"legend":null}
}},
{"data":{"name":"G"},"transform":[{"filter":"datum.s=='OVCAR8-xC'"}],"mark":{"type":"point","shape":"circle","filled":true,"color":"#700e9e","size":85,"opacity":1},"encoding":{"x":{"field":"x","type":"ordinal"},"y":{"field":"v","type":"quantitative"}}},
{"data":{"name":"G"},"transform":[{"filter":"datum.s=='OVCAR8-xCALT'"}],"mark":{"type":"point","shape":"circle","filled":false,"fill":"#ffffff","stroke":"#700e9e","strokeWidth":1.6,"size":80,"opacity":1,"fillOpacity":1},"encoding":{"x":{"field":"x","type":"ordinal"},"y":{"field":"v","type":"quantitative"}}},
{"data":{"name":"G"},"transform":[{"filter":"datum.s=='OVCAR8-xT'"}],"mark":{"type":"point","shape":"square","filled":true,"color":"#ff0000","size":130,"opacity":1},"encoding":{"x":{"field":"x","type":"ordinal"},"y":{"field":"v","type":"quantitative"}}},
{"data":{"name":"G"},"transform":[{"filter":"datum.s=='OVCAR8-xTALT'"}],"mark":{"type":"point","shape":"square","filled":false,"fill":"#ffffff","stroke":"#ff0000","strokeWidth":1.6,"size":110,"opacity":1,"fillOpacity":1},"encoding":{"x":{"field":"x","type":"ordinal"},"y":{"field":"v","type":"quantitative"}}}
]}
],"spacing":38,"resolve":{"scale":{"stroke":"independent","strokeDash":"independent","x":"independent","y":"independent"}}}
]
}
